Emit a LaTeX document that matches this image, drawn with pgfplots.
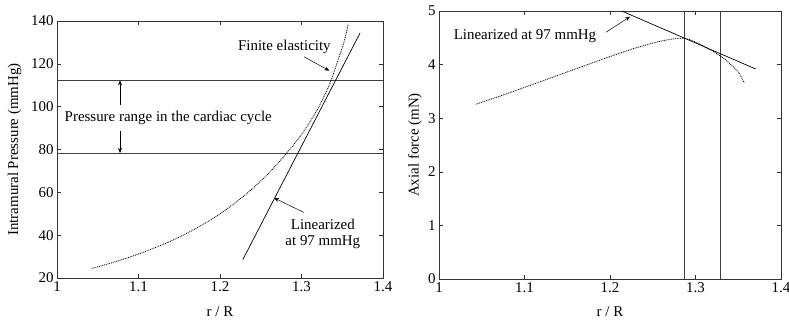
\documentclass[border=0pt]{standalone}
\usepackage{fontspec}
\setmainfont{Liberation Serif}
\usepackage{pgfplots}
\pgfplotsset{compat=1.18}
\usetikzlibrary{arrows.meta}
\pgfplotsset{
  every axis/.append style={
    scale only axis,
    font=\fontsize{15}{17}\selectfont,
    /pgf/number format/assume math mode=true,
    tick align=inside,
    major tick length=4bp,
    axis line style={black!80, line width=0.6pt},
    every tick/.style={black!80, line width=0.6pt},
    xmin=1, xmax=1.4,
    xtick={1,1.1,1.2,1.3,1.4},
    xticklabels={1,1.1,1.2,1.3,1.4},
    xlabel={r / R},
  }
}
\begin{document}
\begin{tikzpicture}[font=\fontsize{15}{17}\selectfont]
\useasboundingbox (-57bp,-44bp) rectangle (732bp,278bp);
% ---------- left panel ----------
\begin{axis}[at={(0,0)}, anchor=south west,
  width=326bp, height=257bp,
  ymin=20, ymax=140, ytick={20,40,60,80,100,120,140},
  ylabel={Intramural Pressure (mmHg)},
  ylabel style={at={(axis description cs:-0.13,0.5)}, anchor=center},
  xlabel style={at={(axis description cs:0.5,-0.13)}, anchor=center},
]
\addplot[black!75, line width=0.8pt] coordinates {(1,112.3) (1.4,112.3)};
\addplot[black!75, line width=0.8pt] coordinates {(1,78.4) (1.4,78.4)};
% finite elasticity
\addplot[black, dash pattern=on 0.9pt off 0.9pt, line width=0.8pt, smooth] coordinates {
(1.043,24.5) (1.06,26.3) (1.08,28.6) (1.10,31.2) (1.12,34.1) (1.14,37.3)
(1.16,41.0) (1.18,45.2) (1.20,50.0) (1.22,55.5) (1.24,61.8) (1.26,69.0)
(1.28,77.5) (1.30,87.0) (1.32,99.0) (1.335,111) (1.345,122) (1.352,130) (1.3574,138.6)};
% linearized
\addplot[black, line width=0.7pt] coordinates {(1.228,28.6) (1.372,134.5)};
\draw[-{Stealth[length=5pt,width=4pt]}, line width=0.5pt] (axis cs:1.3031,123.3) -- (axis cs:1.3341,116.8);
\node at (axis cs:1.279,127.8) {Finite elasticity};
\draw[-{Stealth[length=5pt,width=4pt]}, line width=0.5pt] (axis cs:1.0773,100.9) -- (axis cs:1.0773,112.3);
\draw[-{Stealth[length=5pt,width=4pt]}, line width=0.5pt] (axis cs:1.0773,88.6) -- (axis cs:1.0773,78.4);
\node at (axis cs:1.1365,94.8) {Pressure range in the cardiac cycle};
\draw[-{Stealth[length=5pt,width=4pt]}, line width=0.5pt] (axis cs:1.3031,50.6) -- (axis cs:1.2663,57.4);
\node at (axis cs:1.3262,45.1) {Linearized};
\node at (axis cs:1.3262,36.5) {at 97 mmHg};
\end{axis}
% ---------- right panel ----------
\begin{axis}[at={(382bp,-1bp)}, anchor=south west,
  width=342bp, height=268bp,
  ymin=0, ymax=5, ytick={0,1,2,3,4,5},
  ylabel={Axial force (mN)},
  ylabel style={at={(axis description cs:-0.07,0.5)}, anchor=center},
  xlabel style={at={(axis description cs:0.5,-0.123)}, anchor=center},
]
\addplot[black!75, line width=0.8pt] coordinates {(1.2867,0) (1.2867,5)};
\addplot[black!75, line width=0.8pt] coordinates {(1.329,0) (1.329,5)};
\addplot[black, dash pattern=on 0.9pt off 0.9pt, line width=0.8pt, smooth] coordinates {
(1.043,3.26) (1.08,3.46) (1.12,3.69) (1.16,3.92) (1.20,4.15) (1.23,4.31)
(1.26,4.44) (1.28,4.49) (1.29,4.48) (1.30,4.42) (1.31,4.34) (1.32,4.25)
(1.33,4.15) (1.34,4.02) (1.35,3.86) (1.357,3.66)};
\addplot[black, line width=0.7pt] coordinates {(1.2137,5) (1.3704,3.918)};
\draw[-{Stealth[length=5pt,width=4pt]}, line width=0.5pt] (axis cs:1.1953,4.603) -- (axis cs:1.2234,4.894);
\node at (axis cs:1.1006,4.534) {Linearized at 97 mmHg};
\end{axis}
\end{tikzpicture}
\end{document}
